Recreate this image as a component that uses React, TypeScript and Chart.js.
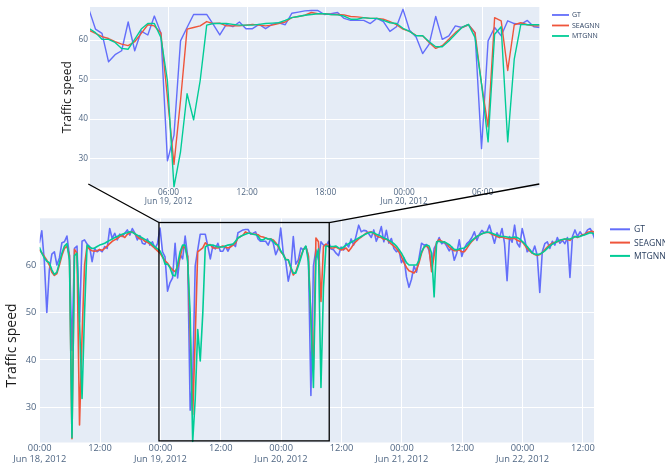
import React, { useEffect, useRef } from "react";
import { Chart, registerables } from "chart.js";
Chart.register(...registerables);

// ---- data (30-minute samples, first sample Jun 17 23:55) ----
const START_HOUR = -1 / 12; // hours after Jun 18 2012 00:00
const STEP_HOURS = 0.5;
const seriesNames = ["GT", "SEAGNN", "MTGNN"];
const seriesColors = ["#636EFA", "#EF553B", "#00CC96"];

const gt = [
  64.6, 67.2, 60.8, 50.0, 59.0, 62.3, 62.8, 60.0, 61.5, 64.7,
  64.9, 66.1, 62.0, 42.0, 63.5, 64.0, 48.0, 65.0, 65.3, 64.4,
  63.9, 60.7, 63.5, 62.8, 63.2, 62.8, 63.9, 63.5, 67.7, 65.6,
  66.7, 65.3, 66.5, 66.0, 66.7, 67.4, 66.3, 67.7, 66.7, 65.3,
  66.2, 64.6, 64.4, 65.5, 64.2, 64.9, 63.5, 64.5, 67.8,
  62.8, 61.7, 54.5, 56.3, 57.3, 64.6, 57.3, 62.3, 61.3, 66.1,
  61.8, 29.4, 35.9, 59.8, 63.2, 66.5, 66.5, 66.5, 64.0, 61.3,
  64.0, 63.4, 64.6, 62.9, 62.9, 64.0, 62.9, 64.0, 64.4, 63.9,
  66.8, 67.1, 67.4, 67.5, 67.5, 66.5, 66.7,
  67.0, 65.5, 65.0, 65.0, 65.0, 64.2, 65.5, 64.7, 62.2, 63.4,
  67.8, 62.5, 60.8, 56.6, 59.0, 66.0, 60.2, 61.1, 63.6, 63.2,
  63.9, 61.9, 32.5, 59.8, 63.2, 61.1, 64.9, 64.2, 64.0, 65.0, 63.4, 63.2,
  62.5, 62.0, 63.8, 63.2, 64.6, 63.8, 65.5, 64.2, 66.2, 68.4,
  67.0, 67.3, 67.2, 66.6, 65.8, 67.4, 65.0, 66.3, 68.1, 64.9, 67.3, 64.6, 65.6,
  63.5, 62.8, 63.2, 60.5, 61.5, 57.5, 55.3, 57.0, 59.8, 58.5, 61.5, 64.6, 64.2, 64.3, 63.0, 59.5, 63.5, 64.5,
  65.8, 64.5, 64.8, 64.0, 63.0, 63.8, 61.0, 62.5, 65.3, 61.8, 63.5, 64.5,
  65.0, 65.8, 67.0, 65.2, 66.5, 67.3, 66.8, 67.0, 68.4, 66.5,
  64.6, 66.8, 65.8, 67.7, 64.5, 56.7, 66.0, 64.8, 68.4, 64.6,
  63.8, 67.7, 65.5, 62.8, 63.3, 62.5, 64.0, 62.0, 54.2, 62.8,
  64.5, 64.9, 63.5, 65.0, 64.2, 65.8, 64.6, 65.2, 64.5, 65.8,
  57.4, 66.0, 67.4, 66.0, 67.0, 66.3, 66.5, 67.4, 67.7, 66.8,
  65.3, 64.6,
];

const seagnn = [
  63.2, 62.6, 61.8, 61.0, 60.0, 58.5, 57.8, 58.2, 60.0, 62.0,
  63.5, 64.0, 62.0, 23.4, 63.3, 62.5, 26.3, 45.0, 60.0, 64.0,
  63.3, 63.0, 62.9, 63.0, 63.3, 63.1, 63.5, 64.0, 64.5, 65.0,
  65.3, 65.6, 66.0, 66.2, 65.8, 66.5, 66.8, 67.0, 66.6, 66.0,
  65.5, 65.5, 65.0, 64.8, 64.5, 64.0, 63.5, 63.0, 62.5,
  61.7, 60.9, 60.4, 59.6, 59.0, 58.6, 59.6, 61.7, 63.9, 63.6,
  61.8, 45.5, 28.5, 44.7, 62.8, 63.2, 63.6, 64.7, 64.2, 64.3,
  63.6, 63.6, 63.6, 63.8, 64.0, 63.8, 63.6, 63.8, 64.2, 64.6,
  65.7, 66.0, 66.3, 67.0, 66.7, 66.7, 66.5,
  66.5, 66.4, 66.0, 65.9, 65.7, 65.5, 65.5, 65.3, 64.7, 63.9,
  62.8, 62.2, 61.2, 61.1, 59.4, 57.9, 58.6, 60.2, 61.9, 63.2,
  63.9, 61.9, 48.9, 38.0, 65.7, 64.9, 52.3, 63.9, 64.4, 63.9, 63.6, 63.6,
  63.8, 63.5, 63.2, 63.3, 63.6, 62.9, 63.6, 64.4, 65.0, 65.5,
  65.9, 66.3, 66.7, 66.9, 67.0, 66.6, 66.2, 65.9, 65.8, 65.4, 65.5, 65.0, 64.4,
  64.0, 63.5, 62.8, 61.8, 60.5, 59.5, 58.8, 58.6, 58.3, 59.0, 60.5, 62.5, 63.8, 64.0, 63.5, 58.6, 62.0, 64.8,
  65.4, 65.0, 64.8, 64.5, 63.8, 63.3, 63.0, 63.0, 63.2, 62.8, 62.8, 63.5,
  64.3, 65.0, 65.5, 66.0, 66.3, 66.6, 66.8, 66.9, 66.8, 66.5,
  66.3, 66.0, 65.8, 65.9, 65.7, 65.6, 65.5, 65.6, 65.6, 65.2,
  65.0, 64.9, 64.2, 63.5, 63.0, 62.5, 62.2, 62.0, 62.2, 62.6,
  63.2, 63.8, 64.3, 64.6, 64.8, 64.9, 65.2, 65.3, 65.5, 65.4,
  65.2, 65.7, 66.0, 65.8, 66.1, 66.4, 66.5, 66.9, 67.0, 67.1,
  66.8, 66.5,
];

const mtgnn = [
  63.8, 62.5, 61.5, 60.8, 60.5, 59.0, 58.0, 58.5, 60.5, 62.5,
  64.0, 64.5, 61.0, 23.6, 62.0, 62.5, 48.0, 31.9, 50.0, 64.2,
  63.8, 63.5, 63.6, 63.9, 64.2, 64.4, 64.6, 64.9, 65.2, 65.5,
  65.8, 66.0, 66.3, 66.5, 66.7, 66.8, 67.0, 66.9, 66.6, 66.3,
  66.0, 65.7, 65.4, 65.1, 64.8, 64.3, 63.8, 63.4, 63.0,
  61.9, 60.2, 60.2, 59.4, 57.9, 57.7, 60.2, 62.8, 64.2, 64.2,
  60.7, 49.7, 22.8, 31.7, 46.4, 39.8, 49.7, 63.8, 64.2, 64.2,
  64.2, 64.0, 63.8, 63.8, 63.8, 64.0, 64.2, 64.3, 64.4, 65.0,
  65.7, 66.0, 66.3, 66.5, 66.7, 66.7, 66.5,
  66.4, 66.1, 65.3, 65.3, 65.7, 65.5, 65.5, 65.0, 64.4, 64.2,
  63.0, 62.2, 61.1, 61.1, 59.6, 58.3, 58.3, 59.8, 61.5, 63.2,
  64.0, 60.7, 48.9, 34.2, 61.5, 63.4, 34.2, 55.2, 64.0, 63.9, 63.9, 63.9,
  64.0, 63.6, 63.5, 63.8, 64.2, 64.5, 64.8, 65.1, 65.4, 65.7,
  66.0, 66.3, 66.6, 66.8, 66.9, 66.8, 66.5, 66.3, 66.0, 65.7, 65.5, 65.2, 64.9,
  64.5, 64.0, 63.3, 62.5, 61.5, 60.5, 60.0, 60.0, 60.0, 60.0, 61.0, 62.8, 63.8, 64.2, 64.0, 62.5, 53.3, 64.9,
  65.0, 64.8, 64.9, 64.6, 64.3, 63.8, 63.3, 63.2, 63.4, 63.5, 63.6, 64.0,
  64.6, 65.2, 65.6, 66.0, 66.3, 66.6, 66.8, 66.9, 66.9, 66.7,
  66.5, 66.3, 66.1, 66.0, 66.0, 65.9, 65.8, 65.8, 65.9, 65.8,
  65.5, 65.0, 64.5, 63.9, 63.2, 62.6, 62.3, 62.2, 62.3, 62.6,
  63.0, 63.5, 64.0, 64.4, 64.7, 65.0, 65.2, 65.4, 65.5, 65.5,
  65.5, 65.7, 66.0, 65.9, 66.0, 66.2, 66.4, 66.6, 66.8, 66.7,
  66.5, 66.3,
];

// tick values (hours after Jun 18 00:00) and y ticks
const mainTicksX = [0, 12, 24, 36, 48, 60, 72, 84, 96, 108];
const insetTicksX = [30, 36, 42, 48, 54];
const yTicks = [30, 40, 50, 60];
const yTitle = "Traffic speed";

// axis ranges
const mainRange = { xMin: 0, xMax: 110.2, yMin: 22.6, yMax: 69.85 };
const insetRange = { xMin: 24.0, xMax: 58.33, yMin: 22.64, yMax: 68.4 };
// zoom rectangle drawn on the main chart (data units)
const zoomBox = { x0: 23.71, x1: 57.56, y0: 22.94, y1: 68.96 };

// ---- helpers ----
const FONT = "'Open Sans', 'Noto Sans', sans-serif";
const TICK_COLOR = "#506784";
const TEXT_COLOR = "#2a3f5f";

const hours = gt.map((_, i) => START_HOUR + STEP_HOURS * i);

function hourLabel(h: number, withDate: boolean) {
  const day = 18 + Math.floor(h / 24);
  const hh = ((h % 24) + 24) % 24;
  const time = String(hh).padStart(2, "0") + ":00";
  return withDate ? [time, `Jun ${day}, 2012`] : time;
}

function makeDatasets(width: number) {
  return [gt, seagnn, mtgnn].map((vals, s) => ({
    label: seriesNames[s],
    data: vals.map((v, i) => ({ x: hours[i], y: v })),
    borderColor: seriesColors[s],
    backgroundColor: seriesColors[s],
    borderWidth: width,
    borderJoinStyle: "round" as const,
    pointRadius: 0,
    pointHoverRadius: 0,
    tension: 0,
    fill: false,
    order: 3 - s,
  }));
}

const bgPlugin = {
  id: "plotBg",
  beforeDraw(chart: any) {
    const { ctx, chartArea: a } = chart;
    ctx.save();
    ctx.fillStyle = "#E5ECF6";
    ctx.fillRect(a.left, a.top, a.right - a.left, a.bottom - a.top);
    ctx.restore();
  },
};

const legendPlugin = {
  id: "sideLegend",
  afterDraw(chart: any, _args: any, o: any) {
    const { ctx, chartArea: a } = chart;
    ctx.save();
    chart.data.datasets.forEach((ds: any, i: number) => {
      const x = a.right + o.dx;
      const y = a.top + o.dy + i * o.rowGap;
      ctx.strokeStyle = ds.borderColor;
      ctx.lineWidth = o.lineWidth;
      ctx.beginPath();
      ctx.moveTo(x, y);
      ctx.lineTo(x + o.lineLen, y);
      ctx.stroke();
      ctx.fillStyle = TEXT_COLOR;
      ctx.font = `${o.size}px ${FONT}`;
      ctx.textBaseline = "middle";
      ctx.textAlign = "left";
      ctx.fillText(ds.label, x + o.lineLen + o.gap, y + 0.5);
    });
    ctx.restore();
  },
};

const titlePlugin = {
  id: "yTitle",
  afterDraw(chart: any, _args: any, o: any) {
    const { ctx, chartArea: a } = chart;
    ctx.save();
    ctx.translate(a.left - o.dx, (a.top + a.bottom) / 2 + o.dy);
    ctx.rotate(-Math.PI / 2);
    ctx.fillStyle = "#1a1a1a";
    ctx.font = `${o.size}px ${FONT}`;
    ctx.textAlign = "center";
    ctx.textBaseline = "middle";
    ctx.fillText(o.text, 0, 0);
    ctx.restore();
  },
};

const boxPlugin = {
  id: "zoomBox",
  afterDatasetsDraw(chart: any) {
    const { ctx, scales } = chart;
    const l = scales.x.getPixelForValue(zoomBox.x0);
    const r = scales.x.getPixelForValue(zoomBox.x1);
    const t = scales.y.getPixelForValue(zoomBox.y1);
    const b = scales.y.getPixelForValue(zoomBox.y0);
    ctx.save();
    ctx.strokeStyle = "#000";
    ctx.lineWidth = 1.3;
    ctx.strokeRect(l, t, r - l, b - t);
    ctx.restore();
  },
};

function axisCommon(size: number, lh: number, pad: number) {
  return {
    grid: { color: "#ffffff", lineWidth: 1, drawTicks: false },
    border: { display: false },
    ticks: {
      autoSkip: false,
      maxRotation: 0,
      minRotation: 0,
      padding: pad,
      color: TICK_COLOR,
      font: { family: FONT, size, lineHeight: lh },
    },
  };
}

export default function App() {
  const mainRef = useRef<HTMLCanvasElement>(null);
  const insetRef = useRef<HTMLCanvasElement>(null);

  useEffect(() => {
    const xMain = axisCommon(9.3, 1.15, 0.5);
    const yMain = axisCommon(9.3, 1.2, 3.3);
    const main = new Chart(mainRef.current as HTMLCanvasElement, {
      type: "line",
      data: { datasets: makeDatasets(1.6) as any },
      plugins: [bgPlugin, boxPlugin, legendPlugin, titlePlugin],
      options: {
        responsive: false,
        animation: false,
        events: [],
        layout: { padding: { left: 0, top: 218.3, right: 71, bottom: 0 } },
        plugins: {
          legend: { display: false },
          tooltip: { enabled: false },
          sideLegend: { dx: 16, dy: 11, rowGap: 13.3, lineLen: 20, gap: 4, lineWidth: 2, size: 8.6 },
          yTitle: { text: yTitle, dx: 27.2, dy: 15, size: 14 },
        } as any,
        scales: {
          x: {
            type: "linear",
            min: mainRange.xMin,
            max: mainRange.xMax,
            afterBuildTicks: (s: any) => { s.ticks = mainTicksX.map((v) => ({ value: v })); },
            afterFit: (s: any) => { s.height = 23.5; },
            ...xMain,
            ticks: {
              ...xMain.ticks,
              callback: (v: any, i: number) => hourLabel(Number(v), i === 0 || Number(v) % 24 === 0),
            },
          },
          y: {
            min: mainRange.yMin,
            max: mainRange.yMax,
            afterBuildTicks: (s: any) => { s.ticks = yTicks.map((v) => ({ value: v })); },
            afterFit: (s: any) => { s.width = 39.7; },
            ...yMain,
          },
        } as any,
      },
    });

    const connectorPlugin = {
      id: "connectors",
      afterDraw(chart: any) {
        const { ctx, chartArea: a } = chart;
        const ms = main.scales as any;
        const l = ms.x.getPixelForValue(zoomBox.x0);
        const r = ms.x.getPixelForValue(zoomBox.x1);
        const t = ms.y.getPixelForValue(zoomBox.y1);
        ctx.save();
        ctx.strokeStyle = "#000";
        ctx.lineWidth = 1.3;
        ctx.beginPath();
        ctx.moveTo(a.left - 1.7, a.bottom - 3.5);
        ctx.lineTo(l, t);
        ctx.moveTo(a.right, a.bottom - 3.5);
        ctx.lineTo(r, t);
        ctx.stroke();
        ctx.restore();
      },
    };

    const xInset = axisCommon(8.3, 1.1, 0.7);
    const yInset = axisCommon(8.3, 1.2, 2);
    const inset = new Chart(insetRef.current as HTMLCanvasElement, {
      type: "line",
      data: { datasets: makeDatasets(1.4) as any },
      plugins: [bgPlugin, legendPlugin, titlePlugin, connectorPlugin],
      options: {
        responsive: false,
        animation: false,
        events: [],
        layout: { padding: { left: 0, top: 6, right: 125.7, bottom: 256 } },
        plugins: {
          legend: { display: false },
          tooltip: { enabled: false },
          sideLegend: { dx: 12.7, dy: 8, rowGap: 10.5, lineLen: 17, gap: 3, lineWidth: 1.8, size: 7 },
          yTitle: { text: yTitle, dx: 22, dy: 0, size: 12 },
        } as any,
        scales: {
          x: {
            type: "linear",
            min: insetRange.xMin,
            max: insetRange.xMax,
            afterBuildTicks: (s: any) => { s.ticks = insetTicksX.map((v) => ({ value: v })); },
            afterFit: (s: any) => { s.height = 22.5; },
            ...xInset,
            ticks: {
              ...xInset.ticks,
              callback: (v: any, i: number) => hourLabel(Number(v), i === 0 || Number(v) % 24 === 0),
            },
          },
          y: {
            min: insetRange.yMin,
            max: insetRange.yMax,
            afterBuildTicks: (s: any) => { s.ticks = yTicks.map((v) => ({ value: v })); },
            afterFit: (s: any) => { s.width = 90; },
            ...yInset,
          },
        } as any,
      },
    });

    return () => {
      inset.destroy();
      main.destroy();
    };
  }, []);

  return (
    <div style={{ position: "absolute", left: 0, top: 0, width: 665, height: 466, background: "#ffffff" }}>
      <canvas ref={mainRef} width={665} height={466} style={{ position: "absolute", left: 0, top: 0 }} />
      <canvas ref={insetRef} width={665} height={466} style={{ position: "absolute", left: 0, top: 0 }} />
    </div>
  );
}
